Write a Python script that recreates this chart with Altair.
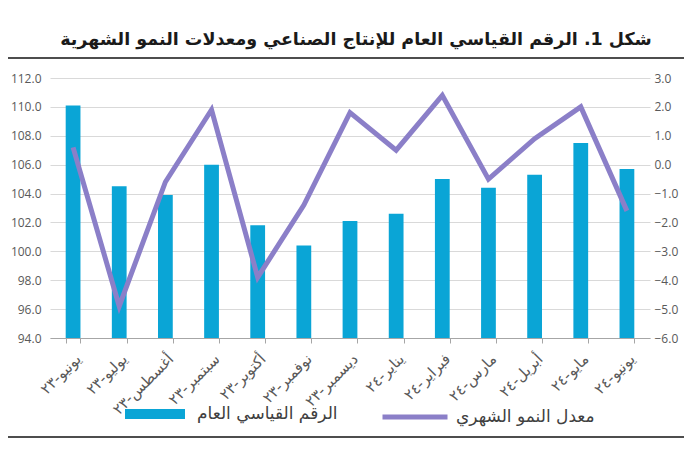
import altair as alt
import pandas as pd

months = ["يونيو-٢٣", "يوليو-٢٣", "أغسطس-٢٣", "سبتمبر-٢٣", "أكتوبر-٢٣", "نوفمبر-٢٣",
          "ديسمبر-٢٣", "يناير-٢٤", "فبراير-٢٤", "مارس-٢٤", "أبريل-٢٤", "مايو-٢٤", "يونيو-٢٤"]
index_values = [110.1, 104.5, 103.9, 106.0, 101.8, 100.4, 102.1, 102.6, 105.0, 104.4, 105.3, 107.5, 105.7]
growth_values = [0.6, -4.9, -0.6, 1.9, -3.9, -1.4, 1.8, 0.5, 2.4, -0.5, 0.9, 2.0, -1.6]
left_ticks = [94, 96, 98, 100, 102, 104, 106, 108, 110, 112]
right_ticks = [-6, -5, -4, -3, -2, -1, 0, 1, 2, 3]

bar_name = "الرقم القياسي العام"
line_name = "معدل النمو الشهري"
title_text = "شكل 1. الرقم القياسي العام للإنتاج الصناعي ومعدلات النمو الشهرية"

df = pd.DataFrame({"month": months, "index": index_values, "growth": growth_values,
                   "bar_series": bar_name, "line_series": line_name})

BLUE = "#0aa5d6"
PURPLE = "#8b7fc8"
LABEL = "#595959"

x_enc = alt.X(
    "month:N", sort=months,
    scale=alt.Scale(paddingInner=0.68, paddingOuter=0.34),
    axis=alt.Axis(title=None, labelAngle=-45, tickBand="extent", domainColor="#a6a6a6",
                  tickColor="#a6a6a6", tickSize=5, labelFont="DejaVu Sans", labelFontSize=15,
                  labelColor=LABEL, labelPadding=8, grid=False),
)

base = alt.Chart(df)

bars = base.mark_bar().encode(
    x=x_enc,
    y=alt.Y("index:Q", scale=alt.Scale(domain=[94, 112], zero=False, nice=False),
            axis=alt.Axis(values=left_ticks, format=".1f", title=None, grid=True, gridColor="#d9d9d9",
                          domain=False, ticks=False, labelFont="Open Sans", labelFontSize=12,
                          labelColor=LABEL, labelPadding=9)),
    y2=alt.Y2Datum(94),
    fill=alt.Fill("bar_series:N", scale=alt.Scale(domain=[bar_name], range=[BLUE]),
                  legend=alt.Legend(orient="none", legendX=75, legendY=306, title=None,
                                    symbolType="M-1,-0.17L1,-0.17L1,0.17L-1,0.17Z",
                                    symbolSize=3600, symbolStrokeWidth=0, labelFont="DejaVu Sans",
                                    labelFontSize=17, labelColor="#404040", labelOffset=12,
                                    labelLimit=400, padding=0)),
)

line = base.mark_line(strokeWidth=5, strokeJoin="miter").encode(
    x=alt.X("month:N", sort=months),
    y=alt.Y("growth:Q", scale=alt.Scale(domain=[-6, 3], zero=False, nice=False),
            axis=alt.Axis(orient="right", values=right_ticks, format=".1f", title=None, grid=False,
                          domain=False, ticks=False, labelFont="Open Sans", labelFontSize=12,
                          labelColor=LABEL, labelPadding=4)),
    stroke=alt.Stroke("line_series:N", scale=alt.Scale(domain=[line_name], range=[PURPLE]),
                      legend=alt.Legend(orient="none", legendX=330, legendY=304, title=None,
                                        symbolType="M-1,0L1,0", symbolSize=4225, symbolStrokeWidth=5,
                                        labelFont="DejaVu Sans", labelFontSize=17, labelColor="#404040",
                                        labelOffset=6, labelLimit=400, padding=0)),
)

one = alt.Data(values=[{"k": 1}])
rule_top = alt.Chart(one).mark_rule(color="#4d4d4d", strokeWidth=2).encode(
    x=alt.value(-42), x2=alt.value(634), y=alt.value(-20))
rule_bottom = alt.Chart(one).mark_rule(color="#4d4d4d", strokeWidth=2).encode(
    x=alt.value(-42), x2=alt.value(634), y=alt.value(359))
title = alt.Chart(one).mark_text(text=title_text, font="DejaVu Sans", fontSize=17.5, fontWeight="bold",
                                 color="#1a1a1a", align="center", baseline="alphabetic").encode(
    x=alt.value(306), y=alt.value(-33))

chart = alt.layer(bars, line, rule_top, rule_bottom, title).resolve_scale(y="independent").properties(
    width=600, height=260,
    padding={"left": 42, "top": 70, "right": 34, "bottom": 104},
    autosize=alt.AutoSizeParams(type="none"),
    background="white",
).configure_view(stroke=None)

chart.save("out.html", embed_options={"renderer": "svg", "actions": False})
